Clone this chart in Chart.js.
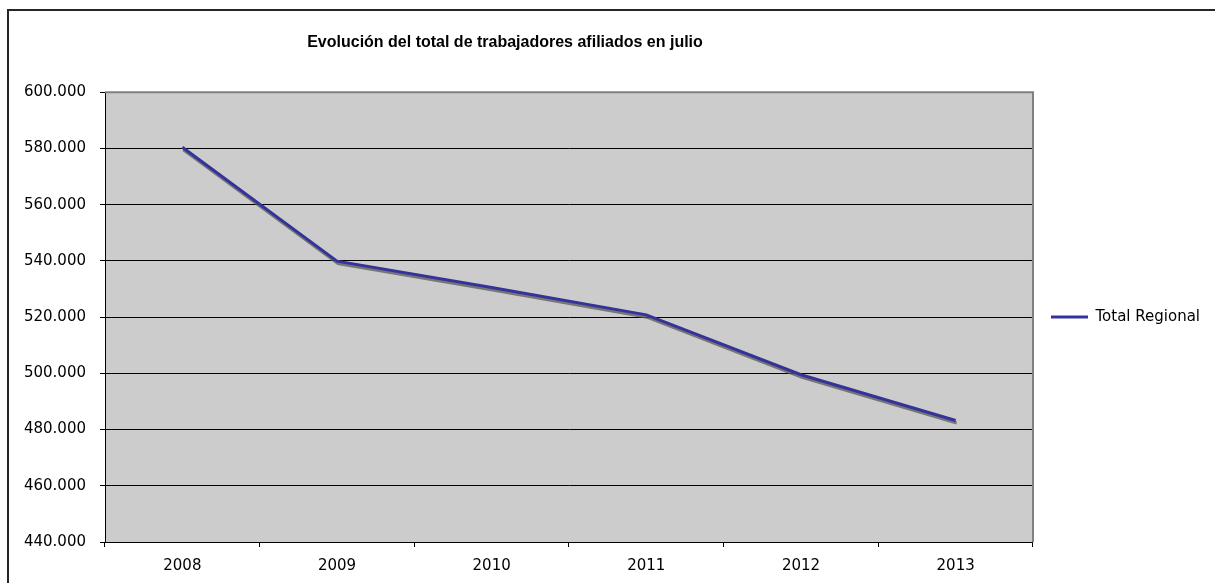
<!DOCTYPE html>
<html>
<head>
<meta charset="utf-8">
<script src="https://cdn.jsdelivr.net/npm/chart.js@4"></script>
<style>
    html, body { margin: 0; padding: 0; background: #fff; overflow: hidden; }
    #frame {
        position: absolute;
        left: 7px;
        top: 9px;
        width: 1300px;
        height: 700px;
        border: 2px solid #262626;
    }
    #wrap { position: absolute; left: 0; top: 0; width: 1215px; height: 583px; }
</style>
</head>
<body>
<div id="frame"></div>
<div id="wrap"><canvas id="afiliadosChart" width="1215" height="583"></canvas></div>
<script>
// Datos
const years = ['2008', '2009', '2010', '2011', '2012', '2013'];
const totalRegional = [580400, 539900, 530500, 520800, 499500, 483200];
const yMin = 440000;
const yMax = 600000;
const yStep = 20000;

function formatThousands(value) {
    return String(Math.round(value)).replace(/\B(?=(\d{3})+(?!\d))/g, '.');
}

// Gray plot area with the Excel-style gray border on top / right
const plotBackground = {
    id: 'plotBackground',
    afterLayout(chart) {
        // the original title sits left of the canvas centre
        if (chart.titleBlock) {
            chart.titleBlock.left = 0;
            chart.titleBlock.right = 1010;
        }
        // legend is centred on the plot area, not on the whole canvas
        if (chart.legend) {
            chart.legend.top = chart.chartArea.top;
            chart.legend.bottom = chart.chartArea.bottom;
        }
    },
    beforeDraw(chart) {
        const { ctx, chartArea } = chart;
        ctx.save();
        ctx.fillStyle = '#cccccc';
        ctx.fillRect(chartArea.left, chartArea.top, chartArea.right - chartArea.left, chartArea.bottom - chartArea.top);
        ctx.restore();
    },
    beforeDatasetsDraw(chart) {
        const { ctx, chartArea } = chart;
        ctx.save();
        ctx.strokeStyle = '#808080';
        ctx.lineWidth = 2;
        ctx.beginPath();
        ctx.moveTo(chartArea.left, chartArea.top);
        ctx.lineTo(chartArea.right, chartArea.top);
        ctx.lineTo(chartArea.right, chartArea.bottom);
        ctx.stroke();
        ctx.restore();
    }
};

// Drop shadow under the series line
const lineShadow = {
    id: 'lineShadow',
    beforeDatasetDraw(chart) {
        const ctx = chart.ctx;
        ctx.save();
        ctx.shadowColor = 'rgba(90, 90, 90, 0.75)';
        ctx.shadowOffsetX = 1;
        ctx.shadowOffsetY = 2.5;
        ctx.shadowBlur = 0;
    },
    afterDatasetDraw(chart) {
        chart.ctx.restore();
    }
};

new Chart(document.getElementById('afiliadosChart'), {
    type: 'line',
    data: {
        labels: years,
        datasets: [{
            label: 'Total Regional',
            data: totalRegional,
            borderColor: '#333399',
            backgroundColor: '#333399',
            borderWidth: 3,
            pointRadius: 0,
            tension: 0,
            fill: false
        }]
    },
    options: {
        responsive: false,
        animation: false,
        layout: {
            padding: { left: 0, top: 0, right: 5, bottom: 0 }
        },
        plugins: {
            title: {
                display: true,
                text: 'Evolución del total de trabajadores afiliados en julio',
                color: '#000',
                font: { family: 'Liberation Sans', size: 16, weight: 'bold' },
                padding: { top: 33, bottom: 40 }
            },
            legend: {
                position: 'right',
                labels: {
                    usePointStyle: true,
                    pointStyle: 'line',
                    pointStyleWidth: 37,
                    padding: 18,
                    color: '#000',
                    font: { family: 'DejaVu Sans', size: 15 }
                }
            },
            tooltip: { enabled: false }
        },
        scales: {
            x: {
                offset: true,
                afterFit(scale) { scale.height = 41; },
                grid: {
                    offset: true,
                    drawOnChartArea: false,
                    tickLength: 5,
                    color: '#000'
                },
                border: { color: '#000', width: 1 },
                ticks: {
                    color: '#000',
                    padding: 10,
                    maxRotation: 0,
                    font: { family: 'DejaVu Sans', size: 15 }
                }
            },
            y: {
                min: yMin,
                max: yMax,
                afterFit(scale) { scale.width = 105; },
                grid: {
                    color: '#000',
                    lineWidth: 1,
                    tickLength: 5
                },
                border: { color: '#000', width: 1 },
                ticks: {
                    stepSize: yStep,
                    color: '#000',
                    padding: 14,
                    font: { family: 'DejaVu Sans', size: 15 },
                    callback: value => formatThousands(value)
                }
            }
        }
    },
    plugins: [plotBackground, lineShadow]
});
</script>
</body>
</html>
